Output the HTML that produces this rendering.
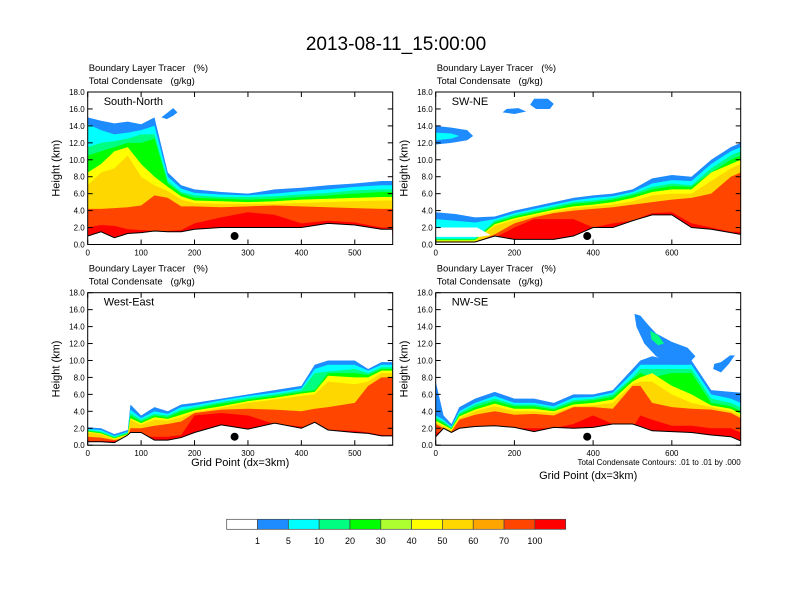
<!DOCTYPE html>
<html><head><meta charset="utf-8"><style>
html,body{margin:0;padding:0;background:#fff}
svg{display:block;font-family:"Liberation Sans",sans-serif}
text{white-space:pre}
</style></head><body>
<svg id="fig" width="792" height="612" viewBox="0 0 792 612">
<text x="396" y="50" font-size="19" text-anchor="middle">2013-08-11_15:00:00</text>
<g id="panels"></g>
<g id="colorbar"></g>
</svg>
<script>
const NS="http://www.w3.org/2000/svg";
const levelColors=["#1e8cff","#00ffff","#00ff80","#00ff00","#ffff00","#ffd700","#ff4500","#ff0000"];
const cbColors=["#ffffff","#1e8cff","#00ffff","#00ff80","#00ff00","#adff2f","#ffff00","#ffd700","#ffa500","#ff4500","#ff0000"];
const cbLabels=["1","5","10","20","30","40","50","60","70","100"];
const yTicks=[0,2,4,6,8,10,12,14,16,18];

// South-North
const snX=[0,25,50,75,100,125,150,175,200,250,300,350,400,450,500,550,570];
const snBlue=[15,14.6,14.3,14.5,14.2,15.0,8.5,7.0,6.5,6.2,6.0,6.5,6.7,7.0,7.2,7.5,7.5];
const snCyan=[14.2,13.5,13.0,13.2,13.5,14.0,8.0,6.6,6.1,5.9,5.8,6.0,6.3,6.5,6.8,7.0,7.0];
const snSpring=[11.5,12,12.2,12.5,13,13,7.5,6.2,5.8,5.6,5.6,5.7,5.9,6.1,6.4,6.5,6.5];
const snGreen=[10.5,11,11.5,12,12,12.5,7.2,6.0,5.5,5.4,5.3,5.4,5.6,5.8,6.0,6.2,6.2];
const snYellow=[8.5,9.5,11,11.5,9.5,8,6.8,5.7,5.2,5.1,5.0,5.1,5.3,5.4,5.5,5.6,5.6];
const snGold=[7,8.5,9,10.5,8,7,6.3,5.3,4.9,4.8,4.8,4.8,4.9,5.0,5.1,5.2,5.2];
const snOrange=[4.2,4.2,4.3,4.4,4.6,5.8,5.5,4.5,4.5,4.4,4.5,4.6,4.5,4.4,4.3,4.2,4.2];
const snRed=[2.0,2.3,2.2,1.8,1.7,1.6,1.6,1.7,2.5,3.2,3.8,3.5,2.5,2.8,2.6,2.0,2.0];
const snTerrain=[1.0,1.5,0.8,1.3,1.4,1.6,1.5,1.5,1.8,2.0,2.0,2.0,2.0,2.5,2.3,1.8,1.8];

// SW-NE
const swX=[0,50,100,150,200,250,300,350,400,450,500,550,600,650,700,750,775];
const swBlue=[3.8,3.6,3.2,3.3,4.0,4.5,5.0,5.5,5.8,6.0,6.5,7.8,8.2,8.0,10.0,11.5,12];
const swCyan=[3.0,2.8,2.6,3.0,3.7,4.2,4.7,5.2,5.5,5.7,6.2,7.2,7.6,7.5,9.5,11,11.5];
const swSpring=[0.7,0.7,0.7,2.8,3.5,4.0,4.5,5.0,5.2,5.5,6.0,6.8,7.2,7.0,9,10.5,11];
const swGreen=[0.6,0.6,0.6,2.6,3.3,3.8,4.3,4.8,5.0,5.3,5.8,6.5,6.9,6.8,8.5,10,10.5];
const swYellow=[0.5,0.5,0.5,2.4,3.1,3.6,4.1,4.5,4.7,5.0,5.5,6.2,6.5,6.5,8.5,9.5,10];
const swGold=[0.4,0.4,0.4,2.2,2.9,3.4,3.9,4.3,4.5,4.7,5.1,5.8,6.0,6.0,7.5,9,9.5];
const swOrange=[0.3,0.3,0.3,1.2,2.5,3.2,3.7,4.0,4.2,4.4,4.7,5.0,5.3,5.5,6.0,8.0,8.5];
const swRed=[0.2,0.2,0.2,0.8,2.0,3.0,3.0,3.0,2.0,2.5,2.8,3.7,3.8,2.5,2.0,1.5,1.5];
const swTerrain=[0.3,0.3,0.3,1.0,0.6,0.6,0.6,1.0,2.0,2.0,2.8,3.5,3.5,2.0,1.8,1.4,1.2];

// West-East
const weX=[0,25,50,75,80,100,125,150,175,200,250,300,350,400,425,450,500,525,550,570];
const weBlue=[2.1,2.0,1.3,1.8,4.8,3.5,4.5,4.0,4.8,5.0,5.5,6.0,6.5,7.0,9.5,10.0,10.0,9.0,9.8,9.8];
const weCyan=[1.9,1.8,1.1,1.6,4.2,3.2,4.0,3.7,4.5,4.7,5.3,5.8,6.2,6.7,9.0,9.5,9.5,8.8,9.5,9.5];
const weSpring=[1.8,1.6,1.0,1.5,3.8,3.0,3.7,3.5,4.2,4.5,5.1,5.6,6.0,6.5,8.5,8.7,9.0,8.5,9.2,9.2];
const weGreen=[1.7,1.5,0.9,1.4,3.5,2.8,3.5,3.3,4.0,4.3,4.9,5.4,5.8,6.3,6.5,8.5,8.5,8.3,9.0,9.0];
const weYellow=[1.6,1.4,0.8,1.3,3.2,2.6,3.3,3.1,3.6,4.1,4.6,5.2,5.6,6.1,6.3,8.2,8.0,8.0,8.8,8.8];
const weGold=[1.5,1.3,0.7,1.2,3.0,2.4,3.0,2.9,3.3,3.9,4.4,5.0,5.4,5.8,6.0,7.5,7.2,7.5,8.5,8.5];
const weOrange=[1.0,0.9,0.6,0.9,2.0,2.0,2.3,2.5,2.8,3.8,4.2,4.3,4.2,4.0,4.3,4.5,5.0,7.0,8.0,8.0];
const weRed=[0.5,0.5,0.5,0.5,1.0,1.0,1.0,1.0,1.2,3.5,3.8,3.5,2.5,2.2,2.0,1.8,1.7,1.5,1.2,1.2];
const weTerrain=[0.4,0.4,0.3,1.2,1.5,1.5,0.6,0.6,0.9,1.5,2.4,1.9,2.6,2.0,2.7,1.8,1.5,1.4,1.1,1.1];

// NW-SE
const nwX=[0,20,40,60,100,150,200,250,300,350,400,450,500,520,550,600,650,700,750,775];
const nwBlue=[7.5,3.5,2.5,4.5,5.5,6.3,5.5,5.5,5.0,6.0,6.0,6.5,9.0,10.0,10.5,10,10,6.5,6.3,6.2];
const nwCyan=[3.5,3.0,2.2,4.0,5.0,5.8,5.0,5.0,4.6,5.6,5.7,6.2,8.5,9.5,9.5,9.5,9.5,6.0,5.5,5.0];
const nwSpring=[3.3,2.8,2.1,3.8,4.8,5.5,4.8,4.8,4.4,5.3,5.5,6.0,8.0,9.0,9.0,9.0,9.0,5.5,5.0,4.5];
const nwGreen=[3.1,2.6,2.0,3.6,4.5,5.2,4.6,4.6,4.2,5.1,5.3,5.7,7.8,8.5,8.0,8.5,8.5,5.0,4.6,4.0];
const nwYellow=[2.9,2.4,1.9,3.4,4.2,4.9,4.3,4.3,4.0,4.8,5.0,5.4,7.5,8.0,8.5,7.0,6.0,4.7,4.3,3.7];
const nwGold=[2.7,2.2,1.8,3.2,4.0,4.6,4.0,4.0,3.8,4.6,4.7,5.0,7.2,7.5,7.5,6.0,5.0,4.5,4.0,3.5];
const nwOrange=[2.5,2.0,1.6,3.0,3.6,4.0,3.6,3.7,3.5,4.5,4.5,4.3,7.0,7.0,5.0,4.5,4.3,4.2,3.8,3.2];
const nwRed=[1.5,1.5,1.5,2.0,2.0,2.0,2.0,2.0,2.0,2.5,3.5,2.5,2.0,3.5,3.0,2.3,2.3,2.0,2.0,1.5];
const nwTerrain=[1.0,2.0,1.5,2.0,2.2,2.3,2.1,1.6,2.1,2.0,2.1,2.5,2.5,2.2,1.7,1.6,1.5,1.2,1.0,0.5];

// extra cloud blobs [grid, km]
const snTongue=[[138,15.0],[150,15.6],[160,16.1],[168,15.6],[160,15.2],[148,14.8]];
const swWhiteGap=[[0,0.9],[110,0.9],[140,1.1],[105,2.0],[0,2.0]];
const swBlob1=[[0,11.8],[40,12.0],[80,12.3],[95,12.8],[80,13.5],[40,13.8],[0,14]];
const swBlob1c=[[0,12.3],[40,12.5],[60,12.8],[40,13.1],[0,13.2]];
const swBlob2=[[170,15.6],[200,15.4],[230,15.7],[210,16.1],[180,16.0]];
const swBlob3=[[240,16.5],[255,16.0],[290,16.0],[300,16.6],[285,17.2],[250,17.2]];
const nwPlume=[[505,15.5],[520,15.3],[540,14.2],[560,13.2],[600,12.2],[640,11.5],[660,10.5],[640,9.5],[600,9.5],[560,10.5],[530,12.0],[510,14.0]];
const nwPlumeC=[[545,13.5],[565,13.0],[580,12.0],[565,11.8],[548,12.5]];
const nwBlob=[[705,9.0],[725,8.6],[745,9.6],[760,10.6],[748,10.6],[725,9.8],[708,9.6]];

const panels=[
 {name:"south-north",label:"South-North",px:87.7,py:92,xmax:571,ticks:[0,100,200,300,400,500],xs:snX,
  lv:[snBlue,snCyan,snSpring,snGreen,snYellow,snGold,snOrange,snRed],ter:snTerrain,dot:275,
  blobs:[[snTongue,"#1e8cff"]],xt:null},
 {name:"sw-ne",label:"SW-NE",px:435.7,py:92,xmax:775,ticks:[0,200,400,600],xs:swX,
  lv:[swBlue,swCyan,swSpring,swGreen,swYellow,swGold,swOrange,swRed],ter:swTerrain,dot:385,
  blobs:[[swWhiteGap,"#ffffff"],[swBlob1,"#1e8cff"],[swBlob1c,"#00ffff"],[swBlob2,"#1e8cff"],[swBlob3,"#1e8cff"]],xt:null},
 {name:"west-east",label:"West-East",px:87.7,py:292.7,xmax:571,ticks:[0,100,200,300,400,500],xs:weX,
  lv:[weBlue,weCyan,weSpring,weGreen,weYellow,weGold,weOrange,weRed],ter:weTerrain,dot:275,
  blobs:[],xt:466},
 {name:"nw-se",label:"NW-SE",px:435.7,py:292.7,xmax:775,ticks:[0,200,400,600],xs:nwX,
  lv:[nwBlue,nwCyan,nwSpring,nwGreen,nwYellow,nwGold,nwOrange,nwRed],ter:nwTerrain,dot:385,
  blobs:[[nwPlume,"#1e8cff"],[nwPlumeC,"#00ff80"],[nwBlob,"#1e8cff"]],xt:479}
];
const W=305,H=152.5;
function mk(tag,attrs,parent){const e=document.createElementNS(NS,tag);for(const k in attrs)e.setAttribute(k,attrs[k]);parent.appendChild(e);return e;}
const root=document.getElementById("panels");
panels.forEach((p,pi)=>{
  const g=mk("g",{},root);
  
  
  const sx=v=>p.px+v/p.xmax*W, sy=v=>p.py+H-v/18*H;
  const cid="clip"+pi;
  const cp=mk("clipPath",{id:cid},g);mk("rect",{x:p.px,y:p.py,width:W,height:H},cp);
  const inner=mk("g",{"clip-path":"url(#"+cid+")"},g);
  p.lv.forEach((arr,li)=>{
    let pts=p.xs.map((x,i)=>sx(x)+","+sy(arr[i]));
    pts.push(sx(p.xmax)+","+sy(0),sx(0)+","+sy(0));
    const pg=mk("polygon",{points:pts.join(" "),fill:levelColors[li]},inner);
    
    
  });
  p.blobs.forEach(b=>{
    const pg=mk("polygon",{points:b[0].map(q=>sx(q[0])+","+sy(q[1])).join(" "),fill:b[1]},inner);
    
    
  });
  let tp=p.xs.map((x,i)=>sx(x)+","+sy(p.ter[i]));
  const tg=mk("polygon",{points:tp.concat([sx(p.xmax)+","+sy(0),sx(0)+","+sy(0)]).join(" "),fill:"#fff"},inner);
  
  
  mk("polyline",{points:tp.join(" "),fill:"none",stroke:"#000","stroke-width":1},inner);
  const dot=mk("circle",{cx:sx(p.dot),cy:sy(1.0),r:4,fill:"#000"},g);
  
  
  mk("rect",{x:p.px,y:p.py,width:W,height:H,fill:"none",stroke:"#000","stroke-width":1},g);
  yTicks.forEach(t=>{
    const y=sy(t);
    mk("line",{x1:p.px,x2:p.px+5,y1:y,y2:y,stroke:"#000"},g);
    mk("line",{x1:p.px+W-5,x2:p.px+W,y1:y,y2:y,stroke:"#000"},g);
    const tx=mk("text",{x:p.px-3,y:y+3,"font-size":8,"text-anchor":"end"},g);tx.textContent=t.toFixed(1);
    
    
  });
  p.ticks.forEach(t=>{
    const x=sx(t);
    mk("line",{x1:x,x2:x,y1:p.py+H,y2:p.py+H-5,stroke:"#000"},g);
    mk("line",{x1:x,x2:x,y1:p.py,y2:p.py+5,stroke:"#000"},g);
    const tx=mk("text",{x:x,y:p.py+H+11,"font-size":8,"text-anchor":"middle"},g);tx.textContent=t;
    
    
  });
  const yl=mk("text",{x:0,y:0,"font-size":11,"text-anchor":"middle",transform:"translate("+(p.px-28)+","+(p.py+H/2)+") rotate(-90)"},g);
  yl.textContent="Height (km)";
  
  
  const t1=mk("text",{x:p.px+1,y:p.py-21,"font-size":9.5},g);t1.textContent="Boundary Layer Tracer   (%)";
  
  
  const t2=mk("text",{x:p.px+1,y:p.py-8,"font-size":9.5},g);t2.textContent="Total Condensate   (g/kg)";
  
  
  const lb=mk("text",{x:p.px+16,y:p.py+13,"font-size":11},g);lb.textContent=p.label;
  
  
  if(p.xt){
    const xl=mk("text",{x:p.px+W/2,y:p.xt,"font-size":11,"text-anchor":"middle"},g);xl.textContent="Grid Point (dx=3km)";
    
    
  }
  if(pi===3){
    const n=mk("text",{x:p.px+W,y:p.py+H+20,"font-size":8,"text-anchor":"end"},g);n.textContent="Total Condensate Contours: .01 to .01 by .000";
    
    
  }
});
const cb=document.getElementById("colorbar");
const bw=(565.7-226.7)/cbColors.length;
cbColors.forEach((c,i)=>{
  const r=mk("rect",{x:226.7+i*bw,y:519.3,width:bw,height:10,fill:c,stroke:"#444","stroke-width":0.7},cb);
  
  
});
cbLabels.forEach((l,i)=>{
  const t=mk("text",{x:226.7+(i+1)*bw,y:544,"font-size":9,"text-anchor":"middle"},cb);t.textContent=l;
  
  
});
</script>
</body></html>
